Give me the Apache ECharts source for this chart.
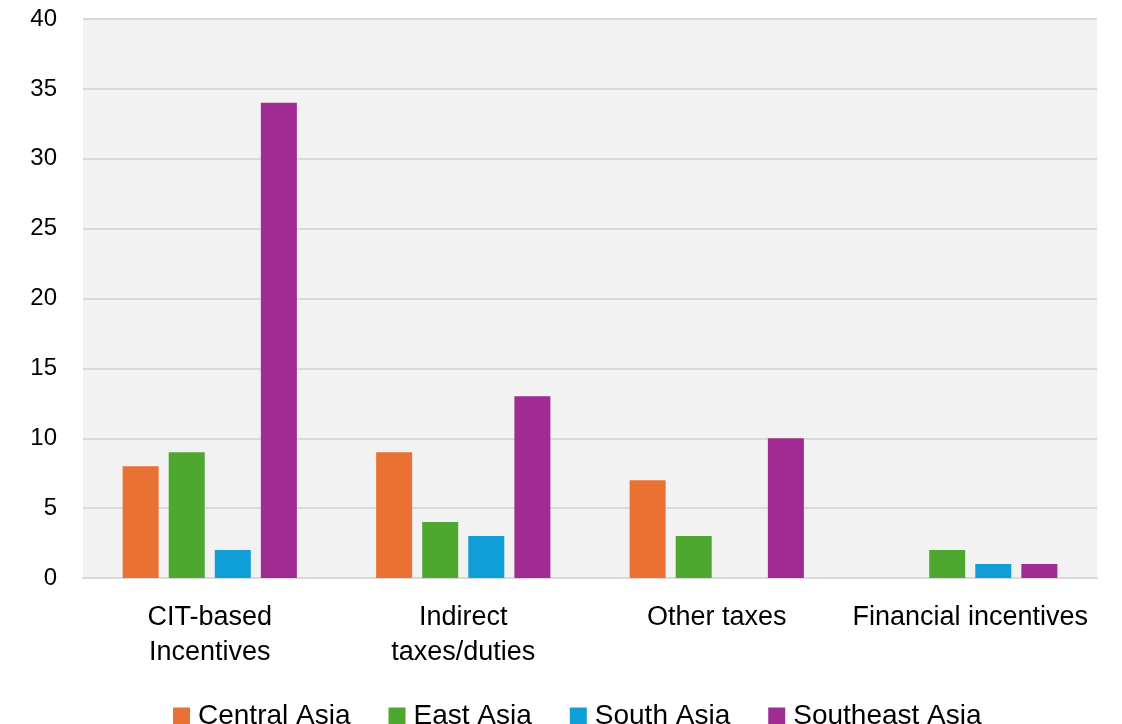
<!DOCTYPE html>
<html>
<head>
<meta charset="utf-8">
<script src="https://cdn.jsdelivr.net/npm/echarts@6/dist/echarts.min.js"></script>
<style>
  html, body { margin: 0; padding: 0; background: #fff; }
  #chart { width: 1122px; height: 724px; }
</style>
</head>
<body>
<div id="chart"></div>
<script>
const categories = ['CIT-based\nIncentives', 'Indirect\ntaxes/duties', 'Other taxes', 'Financial incentives']
const centralAsia = [8, 9, 7, 0]
const eastAsia = [9, 4, 3, 2]
const southAsia = [2, 3, 0, 1]
const southeastAsia = [34, 13, 10, 1]
const yTicks = [0, 5, 10, 15, 20, 25, 30, 35, 40]

const chart = echarts.init(document.getElementById('chart'))

const makeSeries = (name, data, color) => ({
  name: name,
  type: 'bar',
  data: data,
  barWidth: 36,
  barGap: '28%',
  itemStyle: { color: color }
})

const option = {
  animation: false,
  textStyle: { fontFamily: 'Liberation Sans, Arial, sans-serif' },
  grid: {
    left: 83,
    right: 25,
    top: 19,
    bottom: 146,
    show: true,
    backgroundColor: '#f2f2f2',
    borderWidth: 0
  },
  legend: {
    bottom: -11,
    left: 168,
    itemWidth: 17,
    itemHeight: 17,
    itemGap: 38,
    icon: 'rect',
    textStyle: { fontSize: 28, color: '#000', padding: [0, 0, 0, 3], fontFamily: 'Liberation Sans, Arial, sans-serif' },
    data: ['Central Asia', 'East Asia', 'South Asia', 'Southeast Asia']
  },
  xAxis: {
    type: 'category',
    data: categories,
    axisTick: { show: false },
    axisLine: { lineStyle: { color: '#d9d9d9', width: 2 } },
    axisLabel: {
      interval: 0,
      color: '#000',
      fontSize: 27,
      lineHeight: 35,
      margin: 22,
      fontFamily: 'Liberation Sans, Arial, sans-serif'
    }
  },
  yAxis: {
    type: 'value',
    min: 0,
    max: yTicks[yTicks.length - 1],
    interval: 5,
    axisLine: { show: false },
    axisTick: { show: false },
    splitLine: { lineStyle: { color: '#d9d9d9', width: 2 } },
    axisLabel: { color: '#000', fontSize: 24, margin: 26 }
  },
  series: [
    makeSeries('Central Asia', centralAsia, '#E97132'),
    makeSeries('East Asia', eastAsia, '#4EA72E'),
    makeSeries('South Asia', southAsia, '#0F9ED5'),
    makeSeries('Southeast Asia', southeastAsia, '#A02B93')
  ]
}

chart.setOption(option)
</script>
</body>
</html>
